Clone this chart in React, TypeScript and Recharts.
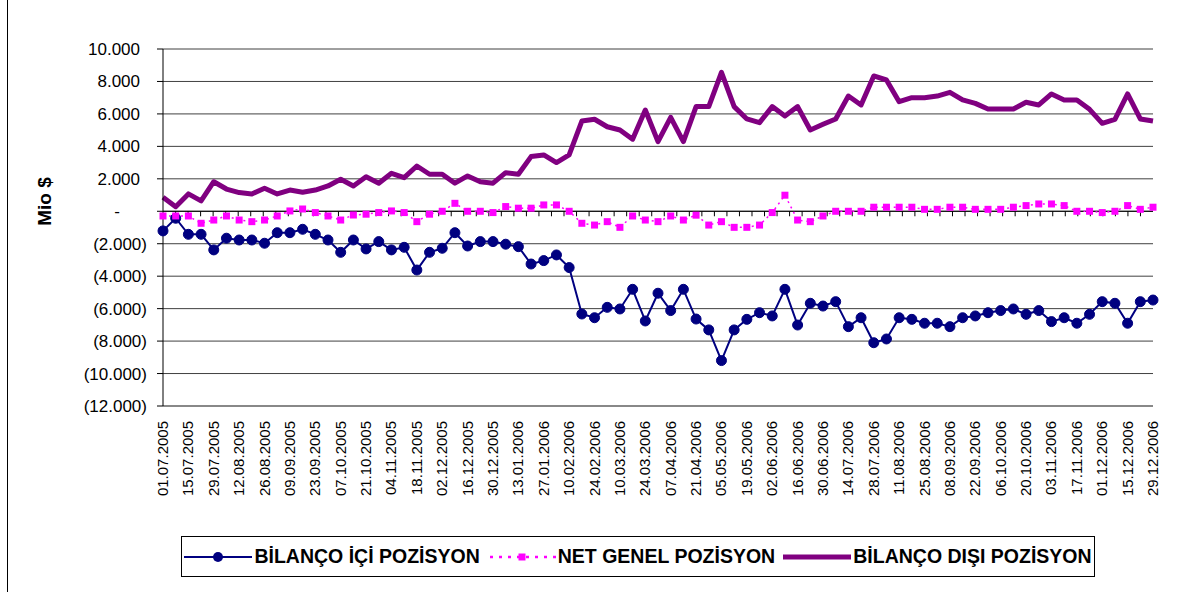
import React from 'react';
import { LineChart, Line, XAxis, YAxis, CartesianGrid, ReferenceLine, Legend } from 'recharts';

// weekly observations, 01.07.2005 - 29.12.2006
const dates = [
  '01.07.2005', '08.07.2005', '15.07.2005', '22.07.2005', '29.07.2005', '05.08.2005', '12.08.2005',
  '19.08.2005', '26.08.2005', '02.09.2005', '09.09.2005', '16.09.2005', '23.09.2005', '30.09.2005',
  '07.10.2005', '14.10.2005', '21.10.2005', '28.10.2005', '04.11.2005', '11.11.2005', '18.11.2005',
  '25.11.2005', '02.12.2005', '09.12.2005', '16.12.2005', '23.12.2005', '30.12.2005', '06.01.2006',
  '13.01.2006', '20.01.2006', '27.01.2006', '03.02.2006', '10.02.2006', '17.02.2006', '24.02.2006',
  '03.03.2006', '10.03.2006', '17.03.2006', '24.03.2006', '31.03.2006', '07.04.2006', '14.04.2006',
  '21.04.2006', '28.04.2006', '05.05.2006', '12.05.2006', '19.05.2006', '26.05.2006', '02.06.2006',
  '09.06.2006', '16.06.2006', '23.06.2006', '30.06.2006', '07.07.2006', '14.07.2006', '21.07.2006',
  '28.07.2006', '04.08.2006', '11.08.2006', '18.08.2006', '25.08.2006', '01.09.2006', '08.09.2006',
  '15.09.2006', '22.09.2006', '29.09.2006', '06.10.2006', '13.10.2006', '20.10.2006', '27.10.2006',
  '03.11.2006', '10.11.2006', '17.11.2006', '24.11.2006', '01.12.2006', '08.12.2006', '15.12.2006',
  '22.12.2006', '29.12.2006',
];

// Mio $
const bilancoIci = [
  -1210, -430, -1420, -1420, -2380, -1660, -1770, -1770, -1970, -1320, -1320, -1110, -1420, -1770,
  -2530, -1770, -2320, -1870, -2380, -2220, -3620, -2530, -2280, -1320, -2140, -1870, -1870, -2030,
  -2180, -3250, -3040, -2690, -3470, -6330, -6560, -5920, -6020, -4810, -6760, -5050, -6120, -4810,
  -6640, -7310, -9200, -7310, -6660, -6250, -6450, -4810, -7010, -5670, -5840, -5570, -7110, -6560,
  -8100, -7870, -6560, -6660, -6900, -6900, -7110, -6560, -6450, -6250, -6120, -6020, -6350, -6120,
  -6800, -6560, -6900, -6350, -5570, -5670, -6900, -5570, -5470,
];

const netGenel = [
  -290, -290, -290, -740, -540, -290, -540, -640, -540, -290, 20, 140, -80, -290,
  -540, -230, -180, -80, 20, -80, -640, -180, 0, 490, 0, 0, -80, 290,
  190, 190, 390, 390, 0, -740, -850, -640, -990, -290, -540, -640, -290, -540,
  -240, -850, -640, -990, -990, -850, -80, 990, -540, -640, -290, 0, 0, 0,
  250, 250, 250, 250, 120, 120, 250, 250, 120, 120, 120, 250, 350, 450,
  450, 350, 0, 0, -80, 0, 350, 120, 250,
];

const bilancoDisi = [
  860, 280, 1070, 640, 1820, 1370, 1150, 1070, 1420, 1070, 1310, 1170, 1310, 1560,
  1970, 1560, 2130, 1730, 2340, 2070, 2790, 2280, 2280, 1730, 2180, 1820, 1730, 2380,
  2280, 3370, 3470, 3000, 3470, 5560, 5670, 5210, 5010, 4440, 6240, 4290, 5790, 4290,
  6450, 6450, 8560, 6450, 5690, 5460, 6450, 5870, 6450, 5010, 5360, 5690, 7100, 6550,
  8340, 8090, 6750, 7000, 7000, 7100, 7330, 6860, 6650, 6300, 6300, 6300, 6720, 6550,
  7230, 6860, 6860, 6280, 5420, 5670, 7230, 5690, 5560,
];

const yTicks = [-12000, -10000, -8000, -6000, -4000, -2000, 0, 2000, 4000, 6000, 8000, 10000];

const seriesNames = ['BİLANÇO İÇİ POZİSYON', 'NET GENEL POZİSYON', 'BİLANÇO DIŞI POZİSYON'];

const data = dates.map((date, i) => ({
  date,
  ici: bilancoIci[i],
  net: netGenel[i],
  disi: bilancoDisi[i],
}));

const FONT = '"Liberation Sans", Arial, sans-serif';
const NAVY = '#000080';
const MAGENTA = '#FF00FF';
const PURPLE = '#800080';

const dotted = (n: number) => String(n).replace(/\B(?=(\d{3})+(?!\d))/g, '.');

// accounting style labels: 2.000 / - / (2.000)
const YTick = ({ x, y, payload }: any) => {
  const v = payload.value as number;
  let label = dotted(v);
  let shift = -7;
  if (v === 0) {
    label = '-';
    shift = -27;
  } else if (v < 0) {
    label = `(${dotted(-v)})`;
    shift = 0;
  }
  return (
    <text x={x + shift} y={y} dy={6} textAnchor="end" fontSize={17} fontFamily={FONT} fill="#000">
      {label}
    </text>
  );
};

const XTick = ({ x, y, payload }: any) => (
  <text
    transform={`translate(${x},${y}) rotate(-90)`}
    textAnchor="end"
    dy={5}
    fontSize={15}
    fontFamily={FONT}
    fill="#000"
  >
    {payload.value}
  </text>
);

// category axis sits on the zero line, small marks between categories
const ZeroAxis = (props: any) => {
  const { x1, y1, x2 } = props;
  const step = (x2 - x1) / dates.length;
  return (
    <g>
      <line x1={x1} y1={y1} x2={x2} y2={y1} stroke="#000" strokeWidth={1} />
      {dates.slice(1).map((d, i) => (
        <line key={d} x1={x1 + step * (i + 1)} y1={y1} x2={x1 + step * (i + 1)} y2={y1 + 5} stroke="#000" />
      ))}
    </g>
  );
};

const SquareDot = ({ cx, cy, index }: any) => {
  if (cx == null || cy == null) return null;
  return <rect key={`sq-${index}`} x={cx - 3.5} y={cy - 3.5} width={7} height={7} fill={MAGENTA} />;
};

const YLabel = ({ viewBox }: any) => {
  const cx = viewBox.x + 1;
  const cy = viewBox.y + viewBox.height / 2 - 26;
  return (
    <text
      transform={`translate(${cx},${cy}) rotate(-90)`}
      textAnchor="middle"
      dy={7}
      fontSize={19}
      fontWeight="bold"
      fontFamily={FONT}
      fill="#000"
    >
      Mio $
    </text>
  );
};

const LegendIcon = ({ kind }: { kind: number }) => (
  <svg width={68} height={20} style={{ display: 'block' }}>
    {kind === 0 && (
      <>
        <line x1={0} y1={10} x2={68} y2={10} stroke={NAVY} strokeWidth={2} />
        <circle cx={34} cy={10} r={5} fill={NAVY} />
      </>
    )}
    {kind === 1 && (
      <>
        <line x1={2} y1={10} x2={68} y2={10} stroke={MAGENTA} strokeWidth={2.5} strokeDasharray="3 6" />
        <rect x={30.5} y={6.5} width={7} height={7} fill={MAGENTA} />
      </>
    )}
    {kind === 2 && <line x1={0} y1={10} x2={68} y2={10} stroke={PURPLE} strokeWidth={5} />}
  </svg>
);

const LegendBox = () => (
  <div
    style={{
      boxSizing: 'border-box',
      width: 914,
      height: 41,
      border: '1px solid #000',
      display: 'flex',
      alignItems: 'center',
      justifyContent: 'center',
      gap: 8,
      fontFamily: FONT,
      fontWeight: 'bold',
      fontSize: 19.5,
      color: '#000',
      background: '#fff',
    }}
  >
    {seriesNames.map((name, i) => (
      <div key={name} style={{ display: 'flex', alignItems: 'center', gap: 2 }}>
        <LegendIcon kind={i} />
        <span style={{ whiteSpace: 'nowrap' }}>{name}</span>
      </div>
    ))}
  </div>
);

export default function App() {
  return (
    <div style={{ position: 'absolute', left: 0, top: 0, width: 1194, height: 592, background: '#fff' }}>
      <div
        style={{
          position: 'absolute',
          left: 7,
          top: 0,
          width: 0,
          height: 592,
          borderLeft: '1px solid #000',
        }}
      />
      <LineChart
        width={1194}
        height={592}
        data={data}
        margin={{ top: 49, right: 41, left: 43, bottom: 45 }}
        style={{ fontFamily: FONT }}
      >
        <CartesianGrid horizontal vertical={false} stroke="#404040" />
        <XAxis
          dataKey="date"
          interval={1}
          height={100}
          tick={<XTick />}
          tickLine={false}
          tickSize={0}
          tickMargin={15}
          axisLine={{ stroke: '#808080', strokeWidth: 1.5 }}
        />
        <XAxis
          xAxisId="top"
          dataKey="date"
          orientation="top"
          height={0}
          tick={false}
          tickLine={false}
          axisLine={{ stroke: '#909090', strokeWidth: 1.5 }}
        />
        <YAxis
          domain={[-12000, 10000]}
          ticks={yTicks}
          interval={0}
          width={120}
          tick={<YTick />}
          tickSize={6}
          tickMargin={10}
          tickLine={{ stroke: '#000' }}
          axisLine={{ stroke: '#000' }}
          label={{ content: <YLabel /> }}
        />
        <YAxis
          yAxisId="r"
          orientation="right"
          width={0}
          tick={false}
          tickLine={false}
          axisLine={{ stroke: '#909090', strokeWidth: 1.5 }}
        />
        <ReferenceLine y={0} shape={<ZeroAxis />} />
        <Line
          type="linear"
          dataKey="ici"
          name={seriesNames[0]}
          stroke={NAVY}
          strokeWidth={2}
          dot={{ r: 5, fill: NAVY, stroke: NAVY, strokeWidth: 1 }}
          activeDot={false}
          isAnimationActive={false}
        />
        <Line
          type="linear"
          dataKey="net"
          name={seriesNames[1]}
          stroke={MAGENTA}
          strokeWidth={1.5}
          strokeDasharray="2 4"
          dot={<SquareDot />}
          activeDot={false}
          isAnimationActive={false}
        />
        <Line
          type="linear"
          dataKey="disi"
          name={seriesNames[2]}
          stroke={PURPLE}
          strokeWidth={5}
          strokeLinejoin="round"
          dot={false}
          activeDot={false}
          isAnimationActive={false}
        />
        <Legend
          content={<LegendBox />}
          wrapperStyle={{ position: 'absolute', left: 181, top: 536, width: 914, height: 41 }}
        />
      </LineChart>
    </div>
  );
}
